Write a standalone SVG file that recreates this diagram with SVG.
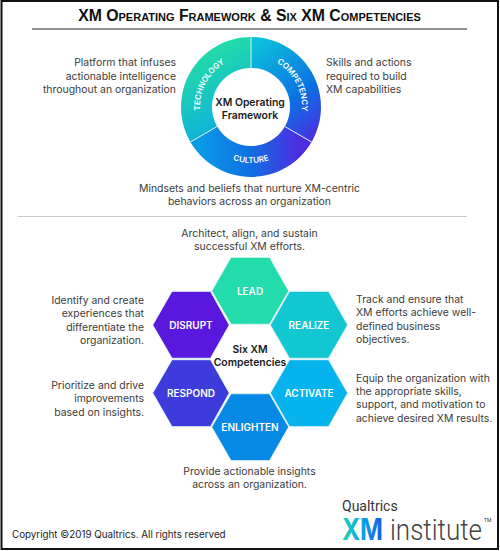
<svg xmlns="http://www.w3.org/2000/svg" width="500" height="551" viewBox="0 0 500 551">
<style>
text{font-family:"Inter","Liberation Sans",sans-serif}
.b{font-size:10.45px;fill:#3c3c3c;font-weight:400}
.m{text-anchor:middle}
.e{text-anchor:end}
.h{font-size:10px;font-weight:600;fill:#fff;text-anchor:middle}
.c{font-size:10.4px;font-weight:600;fill:#1a1a1a;text-anchor:middle}
.r{font-size:8px;font-weight:600;fill:#fff;text-anchor:middle}
.hx{stroke:#dff3f3;stroke-width:1}
</style>
<defs>
<linearGradient id="gt" gradientUnits="userSpaceOnUse" x1="200" y1="55" x2="245" y2="140"><stop offset="0" stop-color="#22dba8"/><stop offset="1" stop-color="#09a8e6"/></linearGradient>
<linearGradient id="gc" gradientUnits="userSpaceOnUse" x1="250" y1="50" x2="320" y2="135"><stop offset="0" stop-color="#0cc0dc"/><stop offset=".6" stop-color="#0a72e2"/><stop offset="1" stop-color="#4a2ee2"/></linearGradient>
<linearGradient id="gk" gradientUnits="userSpaceOnUse" x1="200" y1="150" x2="300" y2="150"><stop offset="0" stop-color="#0a9ae6"/><stop offset=".5" stop-color="#1070e2"/><stop offset="1" stop-color="#4e2ce0"/></linearGradient>
<linearGradient id="gx" gradientUnits="userSpaceOnUse" x1="342" y1="530" x2="384" y2="530"><stop offset="0" stop-color="#22d3b4"/><stop offset=".45" stop-color="#08a8e8"/><stop offset="1" stop-color="#1a5ae0"/></linearGradient>
<path id="pt" d="M206.8 132.5A51 51 0 0 1 251 56"/>
<path id="pc" d="M251 56A51 51 0 0 1 295.2 132.5"/>
<path id="pk" d="M202.5 135A56 56 0 0 0 299.5 135"/>
</defs>
<rect width="500" height="551" fill="#fff"/>
<rect x="1.5" y="1" width="496.5" height="548" fill="none" stroke="#111" stroke-width="2"/>
<g id="title">
<text x="249.5" y="20.5" text-anchor="middle" style="font-family:'Liberation Sans',sans-serif;font-size:15.8px;font-weight:700;font-variant:small-caps;fill:#111">XM Operating Framework &amp; Six XM Competencies</text>
<line x1="32" y1="29" x2="467" y2="29" stroke="#222" stroke-width="1"/>
</g>
<g id="ring">
<path id="ring-technology" d="M251 37A70 70 0 0 0 190.4 142L217.2 126.5A39 39 0 0 1 251 68Z" fill="url(#gt)"/>
<path id="ring-competency" d="M251 37A70 70 0 0 1 311.6 142L284.8 126.5A39 39 0 0 0 251 68Z" fill="url(#gc)"/>
<path id="ring-culture" d="M190.4 142A70 70 0 0 0 311.6 142L284.8 126.5A39 39 0 0 1 217.2 126.5Z" fill="url(#gk)"/>
<g stroke="#d8f0f0" stroke-width="1"><line x1="251" y1="37" x2="251" y2="68"/><line x1="311.6" y1="142" x2="284.8" y2="126.5"/><line x1="190.4" y1="142" x2="217.2" y2="126.5"/></g>
<text class="r"><textPath href="#pt" startOffset="48%">TECHNOLOGY</textPath></text>
<text class="r"><textPath href="#pc" startOffset="52%">COMPETENCY</textPath></text>
<text class="r"><textPath href="#pk" startOffset="50%">CULTURE</textPath></text>
<text class="c" x="250" y="106">XM Operating</text>
<text class="c" x="250" y="119">Framework</text>
</g>
<g id="top-notes">
<text class="b e" x="176" y="66">Platform that infuses</text>
<text class="b e" x="176" y="80">actionable intelligence</text>
<text class="b e" x="176" y="93">throughout an organization</text>
<text class="b" x="326" y="66">Skills and actions</text>
<text class="b" x="326" y="80">required to build</text>
<text class="b" x="326" y="93">XM capabilities</text>
<text class="b m" x="249.5" y="192">Mindsets and beliefs that nurture XM-centric</text>
<text class="b m" x="249.5" y="205">behaviors across an organization</text>
</g>
<line id="divider" x1="18" y1="216.5" x2="467" y2="216.5" stroke="#c2c8cc" stroke-width="1"/>
<g id="lead"><polygon class="hx" points="211.7,291 231,257.3 269.5,257.3 288.7,291 269.5,324.3 231,324.3" fill="#23dcab"/><text class="h" x="250" y="295">LEAD</text></g>
<g id="realize"><polygon class="hx" points="270.3,325 289.5,291.3 328.5,291.3 347.7,325 328.5,358.3 289.5,358.3" fill="#12c6d2"/><text class="h" x="309" y="329">REALIZE</text></g>
<g id="activate"><polygon class="hx" points="270.3,393 289.5,359.7 328.5,359.7 347.7,393 328.5,426.7 289.5,426.7" fill="#07b3ec"/><text class="h" x="309" y="397">ACTIVATE</text></g>
<g id="respond"><polygon class="hx" points="152.7,393 172,359.7 210.5,359.7 229.3,393 210.5,426.7 172,426.7" fill="#3d3bdc"/><text class="h" x="191" y="397">RESPOND</text></g>
<g id="disrupt"><polygon class="hx" points="152.7,325 172,291.3 210.5,291.3 229.3,325 210.5,358.3 172,358.3" fill="#5a18df"/><text class="h" x="191" y="329">DISRUPT</text></g>
<g id="enlighten"><polygon class="hx" points="211.7,427 231,393.7 269.5,393.7 288.7,427 269.5,460.7 231,460.7" fill="#0789e6"/><text class="h" x="250" y="431">ENLIGHTEN</text></g>
<g id="center-label"><text class="c" x="250" y="353">Six XM</text><text class="c" x="250" y="366">Competencies</text></g>
<g id="hex-notes">
<text class="b m" x="249.5" y="237">Architect, align, and sustain</text>
<text class="b m" x="249.5" y="250">successful XM efforts.</text>
<text class="b e" x="144" y="304">Identify and create</text>
<text class="b e" x="144" y="317">experiences that</text>
<text class="b e" x="144" y="331">differentiate the</text>
<text class="b e" x="144" y="344">organization.</text>
<text class="b e" x="144" y="389">Prioritize and drive</text>
<text class="b e" x="144" y="402">improvements</text>
<text class="b e" x="144" y="416">based on insights.</text>
<text class="b" x="356" y="303">Track and ensure that</text>
<text class="b" x="356" y="316">XM efforts achieve well-</text>
<text class="b" x="356" y="330">defined business</text>
<text class="b" x="356" y="343">objectives.</text>
<text class="b" x="356" y="382">Equip the organization with</text>
<text class="b" x="356" y="395">the appropriate skills,</text>
<text class="b" x="356" y="408">support, and motivation to</text>
<text class="b" x="356" y="422">achieve desired XM results.</text>
<text class="b m" x="249.5" y="475">Provide actionable insights</text>
<text class="b m" x="249.5" y="488">across an organization.</text>
</g>
<text id="copyright" x="12" y="538" style="font-size:9.8px;fill:#222">Copyright ©2019 Qualtrics. All rights reserved</text>
<g id="logo">
<text x="342" y="511" style="font-family:Roboto,sans-serif;font-size:14px;fill:#333">Qualtrics</text>
<text x="342" y="540" textLength="41" lengthAdjust="spacingAndGlyphs" style="font-family:Inter,sans-serif;font-size:30px;font-weight:700;fill:url(#gx)">XM</text>
<text x="390" y="540" textLength="92" lengthAdjust="spacingAndGlyphs" style="font-family:Roboto,sans-serif;font-size:30px;font-weight:300;fill:#444">institute</text>
<text x="484" y="522" style="font-family:Roboto,sans-serif;font-size:5px;fill:#333">TM</text>
</g>
</svg>
